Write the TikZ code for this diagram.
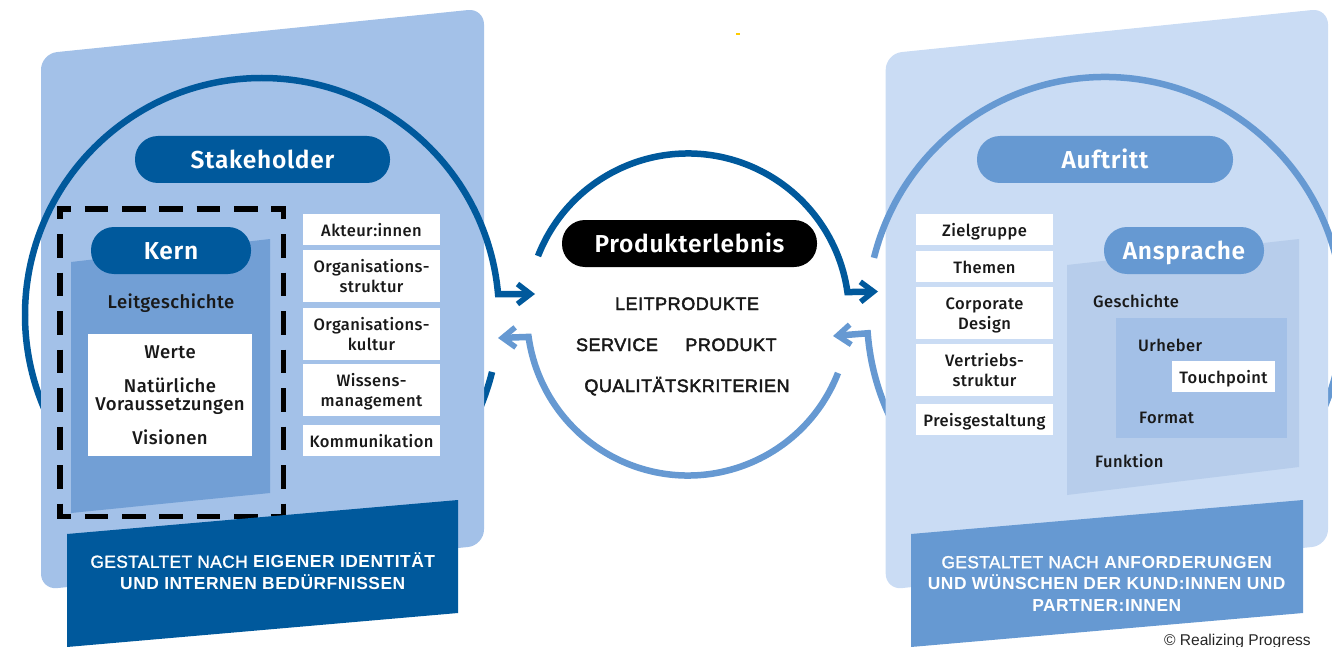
\documentclass[tikz,border=0pt]{standalone}
\usepackage{fontspec}
\setmainfont{Fira Sans}[LetterSpace=2.5,BoldFont={Fira Sans SemiBold}]
\newfontfamily\medf{Fira Sans Medium}[LetterSpace=2.5]
\newfontfamily\headf{Fira Sans SemiBold}[LetterSpace=3]
\newfontfamily\capf{Liberation Sans}[LetterSpace=3,FakeBold=2.5]
\newfontfamily\banf{Liberation Sans}[LetterSpace=2,FakeBold=1.5,BoldFont={Liberation Sans Bold},BoldFeatures={LetterSpace=3,FakeBold=0}]
\newfontfamily\copyf{Liberation Sans}
\usetikzlibrary{arrows.meta}
\definecolor{cDark}{HTML}{00599C}
\definecolor{cMid}{HTML}{6699D2}
\definecolor{cPanelL}{HTML}{A3C1E8}
\definecolor{cPanelR}{HTML}{CADCF4}
\definecolor{cKern}{HTML}{729FD5}
\definecolor{cAnsp}{HTML}{B7CDEB}
\definecolor{cInner}{HTML}{A3C0E7}
\definecolor{cSpeck}{HTML}{FFCC00}
\tikzset{
  x=1pt,y=-1pt,
  pill/.style={rounded corners=23pt,minimum height=47pt,inner sep=0pt,text=white,font=\headf\fontsize{24.5}{26}\selectfont,text height=17.5pt,text depth=0pt},
  whitebox/.style={fill=white,inner sep=0pt,align=center,font=\medf\fontsize{16.5}{20}\selectfont,text=black!90,text height=13pt,text depth=0pt},
  whitetwo/.style={whitebox,text height=33pt},
  label/.style={inner sep=0pt,align=center,font=\medf\fontsize{16.5}{18.5}\selectfont,text=black!90,text height=13pt,text depth=0pt},
  bigcore/.style={label,font=\medf\fontsize{18.5}{18.5}\selectfont},
  caps/.style={inner sep=0pt,align=center,font=\capf\fontsize{18}{20}\selectfont,text=black!90,text height=14pt,text depth=0pt},
  banner/.style={inner sep=0pt,align=center,text=white,font=\banf\fontsize{17.4}{21.5}\selectfont,text height=34.5pt,text depth=0pt},
  arcline/.style={line width=6.5pt,line join=miter,miter limit=10},
  head/.style={-{Straight Barb[length=13pt,width=20pt,line width=5.5pt]}},
  dashbox/.style={line width=5.6pt,black},
}
\begin{document}
\begin{tikzpicture}
\useasboundingbox (0,0) rectangle (1332,647);
% circle centres and arrow ends
\coordinate (lc) at (262,315);
\coordinate (mc) at (688,314.5);
\coordinate (rc) at (1105,315);
\coordinate (tipLout) at (535,294);
\coordinate (tipRout) at (878,291.5);
\coordinate (tipLin) at (498,338);
\coordinate (tipRin) at (833,336);
% hidden lower arcs
\draw[arcline,cDark] (lc) ++(180:237) arc[start angle=180,end angle=13.9,radius=237];
\draw[arcline,cMid,head] (rc) ++(0:238) arc[start angle=0,end angle=175.6,radius=238] -- (tipRin);
% panels
\fill[cPanelL,rounded corners=16pt] (41,53.7) -- (484,8.4) -- (484,545.4) -- (41,589.7) -- cycle;
\fill[cPanelR,rounded corners=16pt] (885.7,53.7) -- (1328,8.4) -- (1328,545.4) -- (885.7,589.7) -- cycle;
% upper arcs
\draw[arcline,cDark,head] (lc) ++(-180:237) arc[start angle=-180,end angle=-5.08,radius=237] -- (tipLout);
\draw[arcline,cMid] (rc) ++(-166.1:238) arc[start angle=-166.1,end angle=0,radius=238];
% centre circle
\draw[arcline,cDark,head] (mc) ++(-158.7:161) arc[start angle=-158.7,end angle=-8.0,radius=161] -- (tipRout);
\draw[arcline,cMid,head] (mc) ++(21.3:161) arc[start angle=21.3,end angle=172,radius=161] -- (tipLin);
% dashed frame
\draw[dashbox,dash pattern=on 23.5pt off 13.8pt,dash phase=9.5pt] (57,208.7) -- (286,208.7);
\draw[dashbox,dash pattern=on 23.5pt off 13.8pt,dash phase=9.5pt] (57,516.3) -- (286,516.3);
\draw[dashbox,dash pattern=on 23.5pt off 15pt,dash phase=10.5pt] (59.7,206) -- (59.7,519);
\draw[dashbox,dash pattern=on 23.5pt off 15pt,dash phase=10.5pt] (283.3,206) -- (283.3,519);
% inner sheets
\fill[cKern] (71,262) -- (270,239) -- (270,493) -- (71,513) -- cycle;
\fill[cAnsp] (1067,265) -- (1299,239) -- (1299,467) -- (1067,495) -- cycle;
\fill[cInner] (1116,318) rectangle (1287,438);
% banners
\fill[cDark] (67,534) -- (458,500) -- (458,613) -- (67,647) -- cycle;
\fill[cMid] (911,534) -- (1303,500) -- (1303,613) -- (911,647) -- cycle;
% speck
\fill[cSpeck] (736,32.8) rectangle (740,35.2);
% pills
\node[pill,fill=cDark,minimum width=255pt] (stake) at (262.5,159.5) {Stakeholder};
\node[pill,fill=cDark,minimum width=160pt] (kern) at (171,250.5) {Kern};
\node[pill,fill=cMid,minimum width=256pt] (auftritt) at (1105,159.5) {Auftritt};
\node[pill,fill=cMid,minimum width=160pt] (ansprache) at (1184,250.5) {Ansprache};
\node[pill,fill=black,minimum width=255pt] (produkt) at (689.5,243.5) {Produkterlebnis};
% left
\node[bigcore] (leit) at (171,301.8) {Leitgeschichte};
\node[fill=white,minimum width=164pt,minimum height=122pt,inner sep=0pt] (core) at (170,395) {};
\node[bigcore] (werte) at (170,351.7) {Werte};
\node[bigcore,text height=31.5pt] (natur) at (170,395) {Natürliche\\Voraussetzungen};
\node[bigcore] (vision) at (170,437.5) {Visionen};
\node[whitebox,minimum width=137pt,minimum height=31pt] (b1) at (371.5,229.5) {Akteur:innen};
\node[whitetwo,minimum width=137pt,minimum height=52pt] (b2) at (371.5,276) {Organisations-\\struktur};
\node[whitetwo,minimum width=137pt,minimum height=52pt] (b3) at (371.5,334) {Organisations-\\kultur};
\node[whitetwo,minimum width=137pt,minimum height=52pt] (b4) at (371.5,390) {Wissens-\\management};
\node[whitebox,minimum width=137pt,minimum height=31pt] (b5) at (371.5,440.5) {Kommunikation};
\node[banner] (bl) at (263,572) {GESTALTET NACH \textbf{EIGENER IDENTITÄT}\\\textbf{UND INTERNEN BEDÜRFNISSEN}};
% centre
\node[caps] (c1) at (687,303) {LEITPRODUKTE};
\node[caps] (c2) at (617,344) {SERVICE};
\node[caps] (c3) at (731,344) {PRODUKT};
\node[caps] (c4) at (687,385) {QUALITÄTSKRITERIEN};
% right
\node[whitebox,minimum width=137pt,minimum height=31pt] (r1) at (984.5,229.5) {Zielgruppe};
\node[whitebox,minimum width=137pt,minimum height=31pt] (r2) at (984.5,266.5) {Themen};
\node[whitetwo,minimum width=137pt,minimum height=52pt] (r3) at (984.5,313) {Corporate\\Design};
\node[whitetwo,minimum width=137pt,minimum height=52pt] (r4) at (984.5,370) {Vertriebs-\\struktur};
\node[whitebox,minimum width=137pt,minimum height=31pt] (r5) at (984.5,419.5) {Preisgestaltung};
\node[label,anchor=west] (g1) at (1093,300.8) {Geschichte};
\node[label,anchor=west] (g2) at (1138,345.2) {Urheber};
\node[whitebox,minimum width=103pt,minimum height=31pt] (g3) at (1223.5,376.5) {Touchpoint};
\node[label,anchor=west] (g4) at (1139,416.8) {Format};
\node[label,anchor=west] (g5) at (1095,460.8) {Funktion};
\node[banner,text height=56pt] (br) at (1107,583.2) {GESTALTET NACH \textbf{ANFORDERUNGEN}\\\textbf{UND WÜNSCHEN DER KUND:INNEN UND}\\\textbf{PARTNER:INNEN}};
\node[inner sep=0pt,anchor=base east,font=\copyf\fontsize{15.6}{16}\selectfont,text=black!85] (copy) at (1311,645) {© Realizing Progress};
\end{tikzpicture}
\end{document}
